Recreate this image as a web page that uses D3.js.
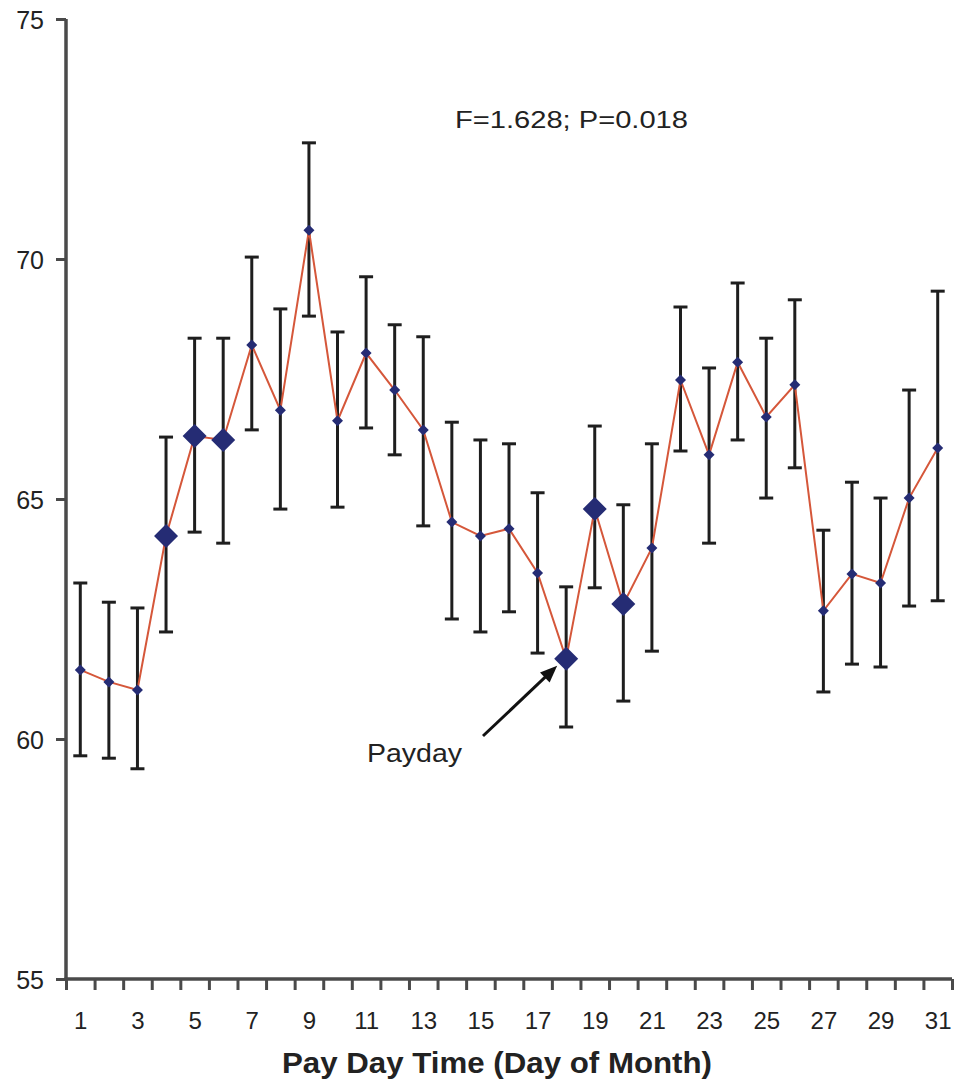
<!DOCTYPE html>
<html>
<head>
<meta charset="utf-8">
<script src="https://cdn.jsdelivr.net/npm/d3@7"></script>
<style>
  body { margin: 0; background: #fff; }
  text { font-family: "Liberation Sans", Arial, sans-serif; fill: #222; }
</style>
</head>
<body>
<div class="container"></div>
<script>
const days = d3.range(1, 32);
const means = [61.44, 61.19, 61.02, 64.23, 66.31, 66.23, 68.21, 66.85, 70.6, 66.63,
  68.04, 67.27, 66.44, 64.52, 64.23, 64.38, 63.46, 61.67, 64.79, 62.81,
  63.98, 67.48, 65.92, 67.85, 66.71, 67.38, 62.67, 63.44, 63.25, 65.02, 66.06];
const upper = [63.25, 62.85, 62.73, 66.29, 68.35, 68.35, 70.04, 68.96, 72.42, 68.48,
  69.63, 68.63, 68.38, 66.6, 66.23, 66.15, 65.13, 63.17, 66.52, 64.88,
  66.15, 69.0, 67.73, 69.5, 68.35, 69.15, 64.35, 65.35, 65.02, 67.27, 69.33];
const lower = [59.65, 59.6, 59.38, 62.23, 64.31, 64.08, 66.44, 64.79, 68.81, 64.83,
  66.48, 65.92, 64.44, 62.5, 62.23, 62.65, 61.79, 60.25, 63.15, 60.79,
  61.83, 66.0, 64.08, 66.23, 65.02, 65.65, 60.98, 61.56, 61.5, 62.77, 62.88];
const bigDays = [4, 5, 6, 18, 19, 20];
const yTicks = [55, 60, 65, 70, 75];
const xLabels = d3.range(1, 32, 2);

const WIDTH = 954, HEIGHT = 1085;
const LEFT = 66, RIGHT = 952, TOP = 19, BOTTOM = 979;

var svg = d3.select('.container').append('svg')
  .attr('width', WIDTH).attr('height', HEIGHT);

var x = d3.scaleLinear().domain([0.5, 31.5]).range([LEFT, RIGHT]);
var y = d3.scaleLinear().domain([55, 75]).range([BOTTOM, TOP]);

var data = days.map(function(d, i) {
  return {day: d, mean: means[i], hi: upper[i], lo: lower[i], big: bigDays.indexOf(d) >= 0};
});

// error bars
var eb = svg.append('g').attr('stroke', '#1e1e1e').attr('stroke-width', 3);
data.forEach(function(d) {
  eb.append('line').attr('x1', x(d.day)).attr('x2', x(d.day))
    .attr('y1', y(d.hi)).attr('y2', y(d.lo));
  eb.append('line').attr('x1', x(d.day) - 7).attr('x2', x(d.day) + 7)
    .attr('y1', y(d.hi)).attr('y2', y(d.hi));
  eb.append('line').attr('x1', x(d.day) - 7).attr('x2', x(d.day) + 7)
    .attr('y1', y(d.lo)).attr('y2', y(d.lo));
});

// mean line
var line = d3.line().x(function(d) { return x(d.day); }).y(function(d) { return y(d.mean); });
svg.append('path').datum(data)
  .attr('d', line)
  .attr('fill', 'none')
  .attr('stroke', '#d5573a')
  .attr('stroke-width', 2);

// diamonds
svg.selectAll('.marker').data(data).enter().append('path')
  .attr('class', 'marker')
  .attr('d', function(d) {
    var r = d.big ? 12 : 5.5;
    return 'M0,' + (-r) + 'L' + r + ',0L0,' + r + 'L' + (-r) + ',0Z';
  })
  .attr('transform', function(d) { return 'translate(' + x(d.day) + ',' + y(d.mean) + ')'; })
  .attr('fill', '#252c74');

// axes
var axisColor = '#4a4a4a';
var yAxis = svg.append('g').attr('transform', 'translate(' + LEFT + ',0)')
  .call(d3.axisLeft(y).tickValues(yTicks).tickSize(10).tickPadding(12));
yAxis.select('.domain').remove();
yAxis.selectAll('line').attr('stroke', axisColor).attr('stroke-width', 3);
yAxis.selectAll('text').attr('font-size', 25).attr('fill', '#2a2a2a')
  .attr('font-family', '"Liberation Sans", Arial, sans-serif').attr('dy', '0.36em');

var xAxis = svg.append('g').attr('transform', 'translate(0,' + BOTTOM + ')')
  .call(d3.axisBottom(x).tickValues(d3.range(0.5, 32, 1)).tickSize(11).tickFormat(''));
xAxis.select('.domain').remove();
xAxis.selectAll('line').attr('stroke', axisColor).attr('stroke-width', 3);

var xLab = svg.append('g').attr('transform', 'translate(0,' + BOTTOM + ')')
  .call(d3.axisBottom(x).tickValues(xLabels).tickSize(0).tickPadding(33));
xLab.select('.domain').remove();
xLab.selectAll('text').attr('font-size', 24).attr('fill', '#2a2a2a')
  .attr('font-family', '"Liberation Sans", Arial, sans-serif');

svg.append('line').attr('x1', LEFT).attr('x2', LEFT).attr('y1', TOP).attr('y2', BOTTOM + 1.5)
  .attr('stroke', axisColor).attr('stroke-width', 3.5);
svg.append('line').attr('x1', LEFT - 1.5).attr('x2', RIGHT).attr('y1', BOTTOM).attr('y2', BOTTOM)
  .attr('stroke', axisColor).attr('stroke-width', 3.5);

// texts
svg.append('text').attr('x', 497).attr('y', 1073)
  .attr('text-anchor', 'middle').attr('font-size', 29).attr('font-weight', 'bold')
  .attr('textLength', 430).attr('lengthAdjust', 'spacingAndGlyphs')
  .text('Pay Day Time (Day of Month)');

svg.append('text').attr('x', 455).attr('y', 128)
  .attr('font-size', 23).attr('textLength', 233).attr('lengthAdjust', 'spacingAndGlyphs')
  .text('F=1.628; P=0.018');

svg.append('text').attr('x', 367).attr('y', 762)
  .attr('font-size', 26).attr('textLength', 95).attr('lengthAdjust', 'spacingAndGlyphs')
  .text('Payday');

// arrow to payday
var pd = data[17];
var tipX = x(pd.day) - 9, tipY = y(pd.mean) + 7;
var tailX = 483, tailY = 736;
var ang = Math.atan2(tipY - tailY, tipX - tailX);
var hl = 17, hw = 7;
svg.append('line').attr('x1', tailX).attr('y1', tailY)
  .attr('x2', tipX - Math.cos(ang) * hl * 0.8).attr('y2', tipY - Math.sin(ang) * hl * 0.8)
  .attr('stroke', '#111').attr('stroke-width', 3);
var bx = tipX - Math.cos(ang) * hl, by = tipY - Math.sin(ang) * hl;
svg.append('path')
  .attr('d', 'M' + tipX + ',' + tipY +
    'L' + (bx + Math.sin(ang) * hw) + ',' + (by - Math.cos(ang) * hw) +
    'L' + (bx - Math.sin(ang) * hw) + ',' + (by + Math.cos(ang) * hw) + 'Z')
  .attr('fill', '#111');
</script>
</body>
</html>
